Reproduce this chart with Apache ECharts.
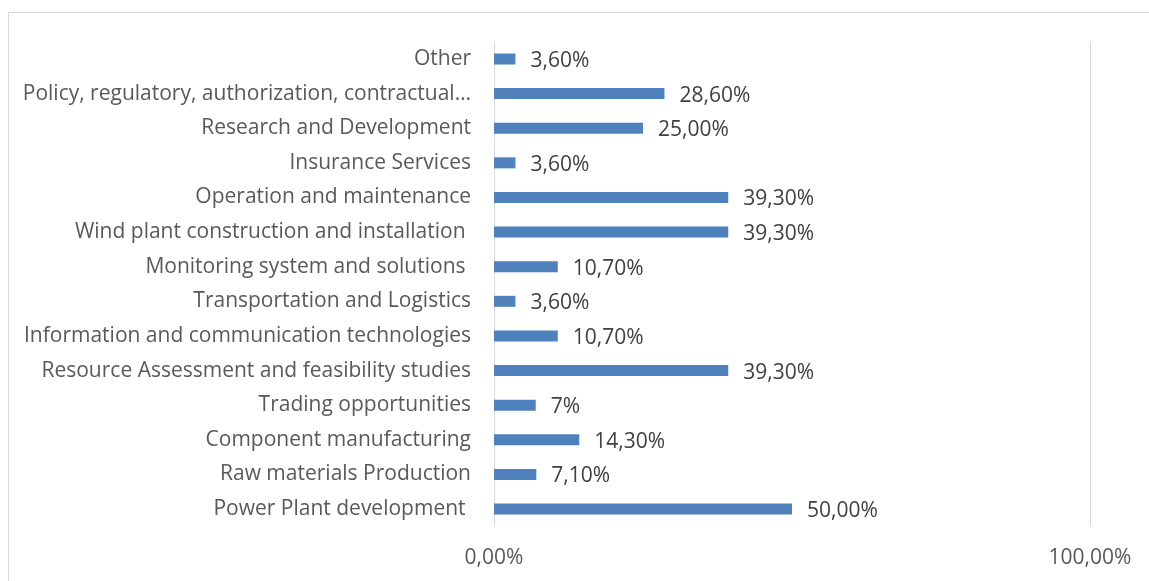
<!DOCTYPE html>
<html>
<head>
<meta charset="utf-8">
<style>
  html, body { margin: 0; padding: 0; background: #fff; }
  #chart { width: 1149px; height: 581px; }
</style>
<script src="https://cdn.jsdelivr.net/npm/echarts@6/dist/echarts.min.js"></script>
</head>
<body>
<div id="chart"></div>
<script>
// Categories listed bottom-to-top (ECharts category axis starts at the bottom)
const categories = [
  'Power Plant development ',
  'Raw materials Production',
  'Component manufacturing',
  'Trading opportunities',
  'Resource Assessment and feasibility studies',
  'Information and communication technologies',
  'Transportation and Logistics',
  'Monitoring system and solutions ',
  'Wind plant construction and installation ',
  'Operation and maintenance',
  'Insurance Services',
  'Research and Development',
  'Policy, regulatory, authorization, contractual…',
  'Other'
];
// Share of respondents, percent
const values = [50.0, 7.1, 14.3, 7, 39.3, 10.7, 3.6, 10.7, 39.3, 39.3, 3.6, 25.0, 28.6, 3.6];
// Decimal places shown in each value label
const labelDecimals = [2, 2, 2, 0, 2, 2, 2, 2, 2, 2, 2, 2, 2, 2];
const axisTicks = [0, 100];

const fmtPct = (v, d) => v.toFixed(d).replace('.', ',') + '%';
const font = '"Open Sans", sans-serif';
const fontSize = 21;

const chart = echarts.init(document.getElementById('chart'), null, { renderer: 'canvas' });
chart.setOption({
  animation: false,
  backgroundColor: '#ffffff',
  graphic: [{
    type: 'rect',
    shape: { x: 8.5, y: 12.5, width: 1160, height: 600 },
    style: { fill: 'none', stroke: '#D9D9D9', lineWidth: 1 },
    silent: true
  }],
  grid: { left: 494, right: 59, top: 41.7, bottom: 54.7, containLabel: false },
  xAxis: {
    type: 'value',
    min: axisTicks[0],
    max: axisTicks[axisTicks.length - 1],
    interval: axisTicks[1] - axisTicks[0],
    axisLine: { show: false },
    axisTick: { show: false },
    splitLine: { show: true, lineStyle: { color: '#D9D9D9', width: 1 } },
    axisLabel: {
      color: '#595959', fontFamily: font, fontSize: fontSize, margin: 21,
      formatter: v => fmtPct(v, 2)
    }
  },
  yAxis: {
    type: 'category',
    data: categories,
    axisLine: { show: true, lineStyle: { color: '#D9D9D9', width: 1 } },
    axisTick: { show: false },
    axisLabel: {
      color: '#595959', fontFamily: font, fontSize: fontSize, margin: 23,
      lineHeight: 24, padding: [2, 0, 0, 0]
    }
  },
  series: [{
    type: 'bar',
    data: values,
    barWidth: 11,
    itemStyle: { color: '#4F81BD' },
    label: {
      show: true,
      position: 'right',
      distance: 15,
      offset: [0, 2],
      color: '#404040',
      fontFamily: font,
      fontSize: fontSize,
      formatter: p => fmtPct(p.value, labelDecimals[p.dataIndex])
    }
  }]
});
</script>
</body>
</html>
